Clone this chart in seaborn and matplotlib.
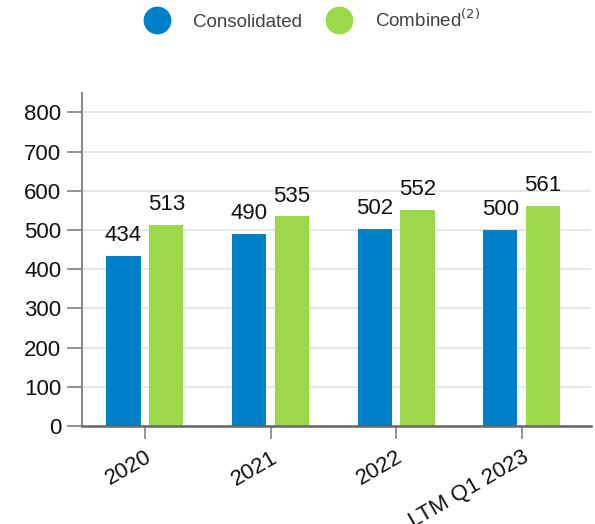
import pandas as pd
import numpy as np
import matplotlib.pyplot as plt
import seaborn as sns
from matplotlib.lines import Line2D

# Data
periods = ['2020', '2021', '2022', 'LTM Q1 2023']
consolidated = [434, 490, 502, 500]
combined = [513, 535, 552, 561]
series_names = ['Consolidated', 'Combined']
colors = ['#0080C6', '#9BD84A']

df = pd.DataFrame({
    'period': periods * 2,
    'value': consolidated + combined,
    'series': [series_names[0]] * 4 + [series_names[1]] * 4,
})

sns.set_style('white')
plt.rcParams['font.family'] = ['Liberation Sans', 'DejaVu Sans']

fig = plt.figure(figsize=(5.95, 5.24), dpi=100)
ax = fig.add_axes([0.138, 0.187, 0.855, 0.636])

sns.barplot(data=df, x='period', y='value', hue='series', palette=colors,
            width=0.68, gap=0.2, legend=False, ax=ax, saturation=1,
            linewidth=0, edgecolor='none')

for cont in ax.containers:
    ax.bar_label(cont, fmt='%d', padding=7, fontsize=16, color='#111111')

ax.set_ylim(0, 850)
ax.set_xlim(-0.5, 3.55)
ax.set_yticks(range(0, 801, 100))
ax.yaxis.grid(True, color='#e3e3e3', linewidth=1.2)
ax.set_axisbelow(True)
ax.set_xlabel('')
ax.set_ylabel('')

for s in ['top', 'right']:
    ax.spines[s].set_visible(False)
ax.spines['left'].set_color('#8a8a8a')
ax.spines['left'].set_linewidth(1.5)
ax.spines['bottom'].set_color('#666666')
ax.spines['bottom'].set_linewidth(1.8)

ax.tick_params(axis='y', length=11, width=1.3, color='#8a8a8a', labelsize=16,
               labelcolor='#111111', left=True, pad=4)
ax.tick_params(axis='x', length=9, width=1.3, color='#8a8a8a', labelsize=16,
               labelcolor='#111111', bottom=True, pad=6)
plt.setp(ax.get_xticklabels(), rotation=30, ha='right', rotation_mode='anchor')

handles = [Line2D([0], [0], marker='o', linestyle='', markersize=19,
                  markerfacecolor=c, markeredgecolor=c) for c in colors]
fig.legend(handles, ['Consolidated', 'Combined$^{(2)}$'], loc='center',
           bbox_to_anchor=(0.52, 0.962), ncol=2, frameon=False, fontsize=13.5,
           labelcolor='#404040', handletextpad=0.9, columnspacing=1.0)

fig.savefig('out.png', dpi=100)
